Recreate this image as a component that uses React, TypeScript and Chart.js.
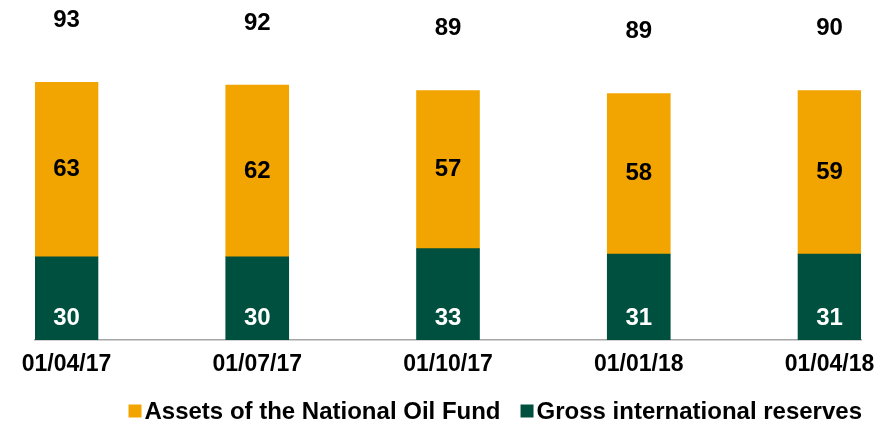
import React, { useEffect, useRef } from "react";
import { Chart, registerables } from "chart.js";

Chart.register(...registerables);

const categories = ["01/04/17", "01/07/17", "01/10/17", "01/01/18", "01/04/18"];
const grossReserves = [30, 30, 33, 31, 31];
const oilFundAssets = [63, 62, 57, 58, 59];
const totals = [93, 92, 89, 89, 90];
const seriesNames = ["Gross international reserves", "Assets of the National Oil Fund"];
const seriesColors = ["#00503F", "#F2A500"];

const FONT = '"Liberation Sans", Arial, Helvetica, sans-serif';

const labelsPlugin = {
  id: "valueLabels",
  afterDatasetsDraw(chart: any) {
    const ctx = chart.ctx;
    ctx.save();
    ctx.font = `bold 24px ${FONT}`;
    ctx.textAlign = "center";
    ctx.textBaseline = "middle";
    const m0 = chart.getDatasetMeta(0);
    const m1 = chart.getDatasetMeta(1);
    m0.data.forEach((bar: any, i: number) => {
      const p = bar.getProps(["x", "y", "base"], true);
      ctx.fillStyle = "#ffffff";
      ctx.fillText(String(grossReserves[i]), p.x, p.base - 22);
    });
    m1.data.forEach((bar: any, i: number) => {
      const p = bar.getProps(["x", "y", "base"], true);
      ctx.fillStyle = "#000000";
      ctx.fillText(String(oilFundAssets[i]), p.x, (p.y + p.base) / 2);
      ctx.fillText(String(totals[i]), p.x, p.y - 62);
    });

    // legend (oil fund first, then gross reserves)
    ctx.font = `bold 24px ${FONT}`;
    ctx.textAlign = "left";
    const order = [1, 0];
    const box = 13;
    const gap = 3;
    const itemGap = 20;
    const widths = order.map((k) => box + gap + ctx.measureText(seriesNames[k]).width);
    const total = widths.reduce((a, b) => a + b, 0) + itemGap * (order.length - 1);
    let x = chart.chartArea.right + 1 - total;
    const cy = 411;
    order.forEach((k, j) => {
      ctx.fillStyle = seriesColors[k];
      ctx.fillRect(x, cy - box / 2, box, box);
      ctx.fillStyle = "#000000";
      ctx.fillText(seriesNames[k], x + box + gap, cy + 1);
      x += widths[j] + itemGap;
    });
    ctx.restore();
  },
};

export default function App() {
  const canvasRef = useRef<HTMLCanvasElement | null>(null);

  useEffect(() => {
    if (!canvasRef.current) return;
    const chart = new Chart(canvasRef.current, {
      type: "bar",
      data: {
        datasets: [
          {
            label: seriesNames[0],
            data: grossReserves.map((v, i) => ({ x: i, y: v })),
            backgroundColor: seriesColors[0],
            barThickness: 63,
          },
          {
            label: seriesNames[1],
            data: oilFundAssets.map((v, i) => ({ x: i, y: v })),
            backgroundColor: seriesColors[1],
            barThickness: 63,
          },
        ],
      } as any,
      options: {
        animation: false,
        responsive: true,
        maintainAspectRatio: false,
        layout: { padding: { left: 35, right: 28, top: 63, bottom: 0 } },
        plugins: {
          legend: { display: false },
          tooltip: { enabled: false },
        },
        scales: {
          x: {
            type: "linear",
            stacked: true,
            offset: false,
            min: -0.165,
            max: 4.165,
            grid: { display: false, drawTicks: false, offset: false },
            border: { display: true, color: "#A6A6A6", width: 1.5 },
            afterBuildTicks: (scale: any) => {
              scale.ticks = categories.map((_, i) => ({ value: i }));
            },
            afterFit: (scale: any) => {
              scale.height = 85;
            },
            ticks: {
              padding: 11,
              autoSkip: false,
              maxRotation: 0,
              color: "#000000",
              font: { family: FONT, size: 23, weight: "bold" },
              callback: (v: any) => categories[Math.round(Number(v))] ?? "",
            },
          },
          y: {
            stacked: true,
            display: false,
            min: 0,
            max: 100,
          },
        },
      } as any,
      plugins: [labelsPlugin],
    });
    return () => chart.destroy();
  }, []);

  return (
    <div style={{ position: "absolute", left: 0, top: 0, width: 889, height: 425, background: "#fff" }}>
      <canvas ref={canvasRef} />
    </div>
  );
}
